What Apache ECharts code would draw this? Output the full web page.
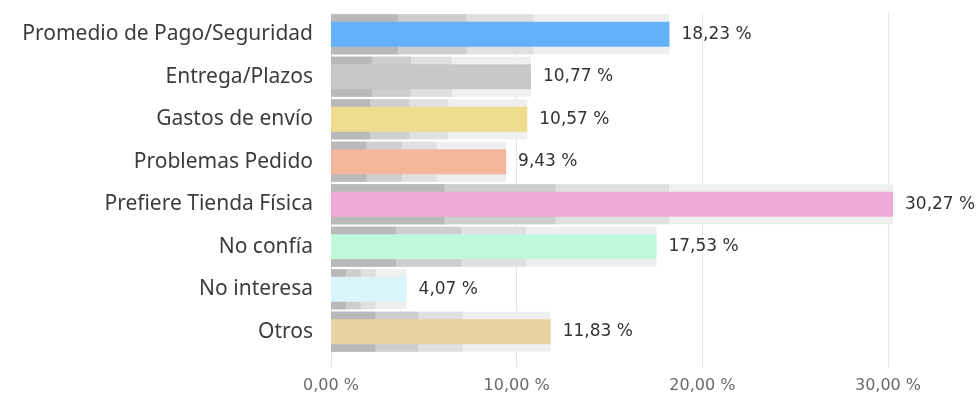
<!DOCTYPE html>
<html>
<head>
<meta charset="utf-8">
<script src="https://cdn.jsdelivr.net/npm/echarts@6/dist/echarts.min.js"></script>
<style>html,body{margin:0;padding:0;background:#fff;}#c{width:977px;height:394px;}</style>
</head>
<body>
<div id="c"></div>
<script>
const categories = ["Promedio de Pago/Seguridad","Entrega/Plazos","Gastos de envío","Problemas Pedido","Prefiere Tienda Física","No confía","No interesa","Otros"];
const values = [18.23, 10.77, 10.57, 9.43, 30.27, 17.53, 4.07, 11.83];
const barColors = ["#63b1fa","#c8c8c8","#eedd8e","#f2b79c","#f0aad7","#c0f8dc","#d9f4fb","#e8d4a2"];
// grey background band segments (end positions)
const bandDark  = [3.6, 2.2, 2.1, 1.9, 6.1, 3.5, 0.8, 2.4];
const bandMid   = [7.3, 4.3, 4.2, 3.8, 12.1, 7.0, 1.6, 4.7];
const bandLight = [10.9, 6.5, 6.3, 5.7, 18.2, 10.5, 2.4, 7.1];
const bandFull  = [18.23, 10.77, 10.57, 9.43, 30.27, 17.53, 4.07, 11.83];
const xTicks = [0, 10, 20, 30];

const fmt = v => v.toFixed(2).replace('.', ',') + ' %';
const chart = echarts.init(document.getElementById('c'));
const bandSeries = (data, color) => ({
  type: 'bar', yAxisIndex: 0, data: data, barWidth: 40, barGap: '-100%',
  itemStyle: { color: color }, clip: false, silent: true, animation: false
});
chart.setOption({
  animation: false,
  grid: { left: 331, right: 89, top: 13, bottom: 39 },
  xAxis: {
    type: 'value', min: xTicks[0], max: xTicks[xTicks.length - 1], interval: 10,
    axisLine: { show: false },
    axisTick: { show: true, length: 14, lineStyle: { color: '#e6e6e6' } },
    splitLine: { show: true, lineStyle: { color: '#e6e6e6', width: 1 } },
    axisLabel: { formatter: fmt, color: '#6a6a6a', fontSize: 16, fontFamily: 'DejaVu Sans', margin: 25 }
  },
  yAxis: [
    { type: 'category', data: categories, inverse: true,
      axisLine: { show: false }, axisTick: { show: false },
      axisLabel: { color: '#3c3c3c', fontSize: 21, fontFamily: 'Noto Sans', margin: 18 } },
    { type: 'category', data: categories, inverse: true, show: false }
  ],
  series: [
    bandSeries(bandFull, '#efefef'),
    bandSeries(bandLight, '#e0e0e0'),
    bandSeries(bandMid, '#cecece'),
    bandSeries(bandDark, '#b9b9b9'),
    {
      type: 'bar', yAxisIndex: 1, barWidth: 25, clip: false, z: 5,
      data: values.map((v, i) => ({ value: v, itemStyle: { color: barColors[i] } })),
      label: { show: true, position: 'right', distance: 12, formatter: p => fmt(p.value),
        color: '#333', fontSize: 17, fontFamily: 'DejaVu Sans' }
    }
  ]
});
</script>
</body>
</html>
